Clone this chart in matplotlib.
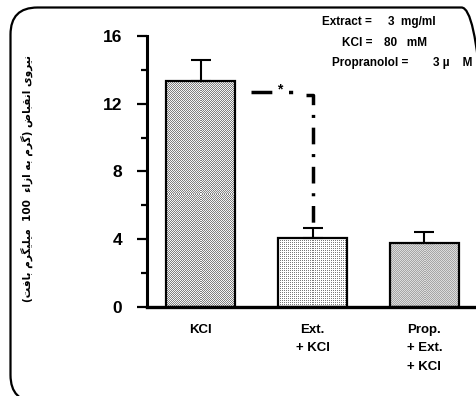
import re
import numpy as np
import matplotlib
matplotlib.use("Agg")
import matplotlib.pyplot as plt
from matplotlib.patches import FancyBboxPatch

plt.rcParams['font.family'] = ['Liberation Sans', 'DejaVu Sans']
plt.rcParams['font.weight'] = 'bold'
plt.rcParams['lines.scale_dashes'] = False

# daten
groups = ['KCl', 'Ext.\n+ KCl', 'Prop.\n+ Ext.\n+ KCl']
means = [13.35, 4.05, 3.75]
sem = [1.25, 0.62, 0.70]
yticks = [0, 4, 8, 12, 16]
sig_y = 12.7          # hoehe der signifikanz-linie
sig_x0 = 0.45         # start der linie (zwischen bar 0 und 1)
ylabel_fa = 'نیروی انقباض (گرم به ازاء  100  میلیگرم بافت)'
info_left = ['Extract =', 'KCl =', 'Propranolol =']
info_right = ['3  mg/ml', '80   mM', '3 µ    M']

# --- einfache arabisch/persisch formung (matplotlib macht kein shaping) ---
forms = {
    'ا': ('\uFE8D', '\uFE8E', None, None),
    'ب': ('\uFE8F', '\uFE90', '\uFE91', '\uFE92'),
    'ت': ('\uFE95', '\uFE96', '\uFE97', '\uFE98'),
    'ر': ('\uFEAD', '\uFEAE', None, None),
    'ز': ('\uFEAF', '\uFEB0', None, None),
    'ض': ('\uFEBD', '\uFEBE', '\uFEBF', '\uFEC0'),
    'ف': ('\uFED1', '\uFED2', '\uFED3', '\uFED4'),
    'ق': ('\uFED5', '\uFED6', '\uFED7', '\uFED8'),
    'ل': ('\uFEDD', '\uFEDE', '\uFEDF', '\uFEE0'),
    'م': ('\uFEE1', '\uFEE2', '\uFEE3', '\uFEE4'),
    'ن': ('\uFEE5', '\uFEE6', '\uFEE7', '\uFEE8'),
    'ه': ('\uFEE9', '\uFEEA', '\uFEEB', '\uFEEC'),
    'و': ('\uFEED', '\uFEEE', None, None),
    'ی': ('\uFBFC', '\uFBFD', '\uFBFE', '\uFBFF'),
    'گ': ('\uFB92', '\uFB93', '\uFB94', '\uFB95'),
}


def dual(c):
    return c in forms and forms[c][2] is not None


def shape_fa(s):
    out = []
    for i, c in enumerate(s):
        if c not in forms:
            out.append(c)
            continue
        prev = s[i - 1] if i > 0 else ' '
        nxt = s[i + 1] if i + 1 < len(s) else ' '
        p = dual(prev)
        n = dual(c) and nxt in forms
        iso, fin, ini, med = forms[c]
        if p and n:
            out.append(med)
        elif p:
            out.append(fin)
        elif n:
            out.append(ini)
        else:
            out.append(iso)
    vis = ''.join(out)[::-1]
    vis = re.sub(r'\d+', lambda m: m.group()[::-1], vis)
    vis = vis.translate(str.maketrans('()', ')('))
    return vis


fig = plt.figure(figsize=(4.77, 3.96), dpi=100)
ax = fig.add_axes([147 / 477, 89 / 396, 330 / 477, 271 / 396])

x = np.arange(len(groups))
ax.set_xlim(-0.48, 2.47)
ax.set_ylim(0, 16)

bars = ax.bar(x, means, width=0.62, facecolor='none', edgecolor='black',
              linewidth=1.6, zorder=3)
ax.errorbar(x, means, yerr=[np.zeros(len(sem)), sem], fmt='none',
            ecolor='black', elinewidth=1.5, capsize=7, capthick=1.5, zorder=2)

# punktraster in den balken (wie im original)
textures = [('#808080', '#f4f4f4', 'checker'),
            ('#7a7a7a', '#ffffff', 'sparse'),
            ('#a6a6a6', '#dcdcdc', 'checker')]
fig.canvas.draw()
for b, (c1, c2, kind) in zip(bars, textures):
    x0, y0 = b.get_x(), b.get_y()
    x1, y1 = x0 + b.get_width(), y0 + b.get_height()
    (px0, py0), (px1, py1) = ax.transData.transform([(x0, y0), (x1, y1)])
    w = max(int(round(px1 - px0)), 1)
    h = max(int(round(py1 - py0)), 1)
    jj, ii = np.meshgrid(np.arange(w), np.arange(h))
    if kind == 'checker':
        mask = (ii + jj) % 2 == 0
    else:
        mask = (ii % 2 == 0) & (jj % 2 == 0)
    col1 = np.array(matplotlib.colors.to_rgb(c1))
    col2 = np.array(matplotlib.colors.to_rgb(c2))
    img = np.where(mask[..., None], col1, col2)
    ax.imshow(img, extent=(x0, x1, y0, y1), aspect='auto',
              interpolation='nearest', zorder=1)
ax.set_xlim(-0.48, 2.47)
ax.set_ylim(0, 16)

# signifikanz linie
ax.plot([sig_x0, x[1] - 0.11], [sig_y, sig_y], color='black', lw=2.5,
        dashes=(15, 12, 3, 30), solid_capstyle='butt', dash_capstyle='butt')
ax.plot([x[1] - 0.055, x[1], x[1]], [sig_y - 0.2, sig_y - 0.2, means[1] + sem[1]],
        color='black', lw=2.5, dashes=(12, 7, 2.2, 7), dash_capstyle='butt',
        solid_joinstyle='miter')
ax.text((sig_x0 + x[1]) / 2 - 0.015, sig_y - 0.25, '*', ha='center',
        va='bottom', fontsize=10, fontweight='bold')

# achsen
for s in ['top', 'right']:
    ax.spines[s].set_visible(False)
ax.spines['left'].set_linewidth(2.2)
ax.spines['bottom'].set_linewidth(2.4)
ax.set_yticks(yticks)
ax.set_yticks([2, 6, 10, 14], minor=True)
ax.tick_params(axis='y', which='major', length=7, width=1.6, pad=11,
               labelsize=12.5)
ax.tick_params(axis='y', which='minor', length=4, width=1.6)
ax.set_xticks(x)
ax.set_xticklabels(groups, fontsize=9.5, fontweight='bold', linespacing=1.75,
                   va='top')
ax.tick_params(axis='x', length=0, pad=12)
ax.patch.set_visible(False)

# info text oben rechts
for i, (l, r) in enumerate(zip(info_left, info_right)):
    yy = 1 - (22 + i * 20.5) / 396
    xl = [372, 372, 408][i] / 477
    xr = [388, 384, 433][i] / 477
    fig.text(xl, yy, l, ha='right', va='center', fontsize=8.5, fontweight='bold')
    fig.text(xr, yy, r, ha='left', va='center', fontsize=8.5, fontweight='bold')

# y-beschriftung (persisch)
fig.text(27 / 477, 1 - 178 / 396, shape_fa(ylabel_fa), rotation=90,
         ha='center', va='center', fontsize=7.6, fontweight='bold',
         family=['DejaVu Sans'])

# abgerundeter rahmen
frame = FancyBboxPatch((0.105, -0.06), 4.78, 3.885 + 0.06,
                       boxstyle='round,pad=0,rounding_size=0.27',
                       transform=fig.dpi_scale_trans, fill=False,
                       edgecolor='black', linewidth=1.6, clip_on=False)
fig.add_artist(frame)

fig.savefig('out.png', dpi=100)
